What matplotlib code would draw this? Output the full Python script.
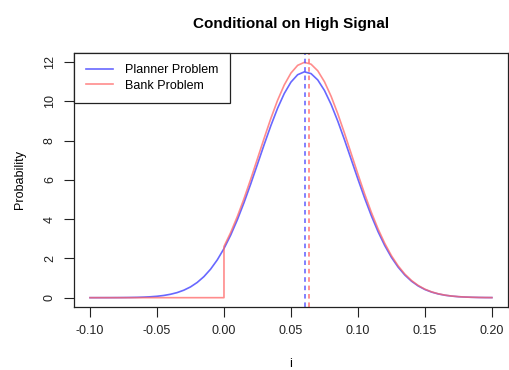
import matplotlib
matplotlib.use('Agg')
import matplotlib.pyplot as plt

plt.rcParams['font.family'] = ['Liberation Sans', 'DejaVu Sans']

# grid of i values
i_vals = [-0.100, -0.095, -0.090, -0.085, -0.080, -0.075, -0.070, -0.065, -0.060, -0.055,
          -0.050, -0.045, -0.040, -0.035, -0.030, -0.025, -0.020, -0.015, -0.010, -0.005,
          0.000, 0.005, 0.010, 0.015, 0.020, 0.025, 0.030, 0.035, 0.040, 0.045,
          0.050, 0.055, 0.060, 0.065, 0.070, 0.075, 0.080, 0.085, 0.090, 0.095,
          0.100, 0.105, 0.110, 0.115, 0.120, 0.125, 0.130, 0.135, 0.140, 0.145,
          0.150, 0.155, 0.160, 0.165, 0.170, 0.175, 0.180, 0.185, 0.190, 0.195, 0.200]

planner = [0.0003, 0.0005, 0.0009, 0.0017, 0.0031, 0.0055, 0.0096, 0.016, 0.027, 0.045,
           0.071, 0.112, 0.172, 0.258, 0.380, 0.547, 0.774, 1.070, 1.450, 1.924,
           2.500, 3.182, 3.969, 4.846, 5.797, 6.792, 7.794, 8.758, 9.641, 10.394,
           10.975, 11.351, 11.498, 11.408, 11.085, 10.551, 9.835, 8.979, 8.030, 7.033,
           6.034, 5.069, 4.172, 3.363, 2.655, 2.053, 1.555, 1.153, 0.838, 0.596,
           0.415, 0.284, 0.190, 0.124, 0.080, 0.050, 0.031, 0.019, 0.011, 0.006, 0.004]

# bank problem: zero below 0, jumps up at i = 0
bank_i = [-0.100, 0.000] + i_vals[20:]
bank = [0.0, 0.0, 2.605, 3.316, 4.136, 5.050, 6.041, 7.077, 8.121, 9.126, 10.046, 10.831,
        11.436, 11.828, 11.981, 11.887, 11.551, 10.994, 10.248, 9.356, 8.367, 7.329,
        6.287, 5.282, 4.347, 3.504, 2.767, 2.139, 1.620, 1.201, 0.873, 0.621,
        0.432, 0.296, 0.198, 0.129, 0.083, 0.052, 0.032, 0.020, 0.011, 0.006, 0.004]

planner_mean = 0.0606
bank_mean = 0.0631

blue = (0.3, 0.3, 1.0)
red = (1.0, 0.4, 0.4)

fig = plt.figure(figsize=(5.1, 3.7), dpi=100)
ax = fig.add_axes([0.145, 0.17, 0.851, 0.688])

ax.plot(i_vals, planner, color=blue, lw=1.2, alpha=0.85, label='Planner Problem')
ax.plot(bank_i, bank, color=red, lw=1.2, alpha=0.75, label='Bank Problem')
ax.axvline(planner_mean, color=blue, lw=1.1, ls=(0, (3, 2.5)), alpha=0.9)
ax.axvline(bank_mean, color=red, lw=1.1, ls=(0, (3, 2.5)), alpha=0.9)

ax.set_xlim(-0.112, 0.212)
ax.set_ylim(-0.48, 12.48)
ax.set_xticks([-0.10, -0.05, 0.00, 0.05, 0.10, 0.15, 0.20])
ax.set_xticklabels(['-0.10', '-0.05', '0.00', '0.05', '0.10', '0.15', '0.20'])
ax.set_yticks([0, 2, 4, 6, 8, 10, 12])
ax.set_yticklabels(['0', '2', '4', '6', '8', '10', '12'], rotation=90, va='center')
ax.tick_params(direction='out', length=7, width=0.8, labelsize=9, colors='#222222', pad=6)
for s in ax.spines.values():
    s.set_linewidth(0.9)
    s.set_color('#222222')

ax.set_title('Conditional on High Signal', fontsize=11, fontweight='bold', pad=18)
ax.set_xlabel('i', fontsize=9, labelpad=15)
ax.set_ylabel('Probability', fontsize=9, labelpad=13)

leg = ax.legend(loc='upper left', bbox_to_anchor=(0, 1), borderaxespad=0, fancybox=False,
                edgecolor='#222222', fontsize=9, handlelength=2.2, handletextpad=0.9,
                borderpad=0.95, labelspacing=0.25, framealpha=1)
leg.get_frame().set_linewidth(0.9)

fig.savefig('out.png', dpi=100)
